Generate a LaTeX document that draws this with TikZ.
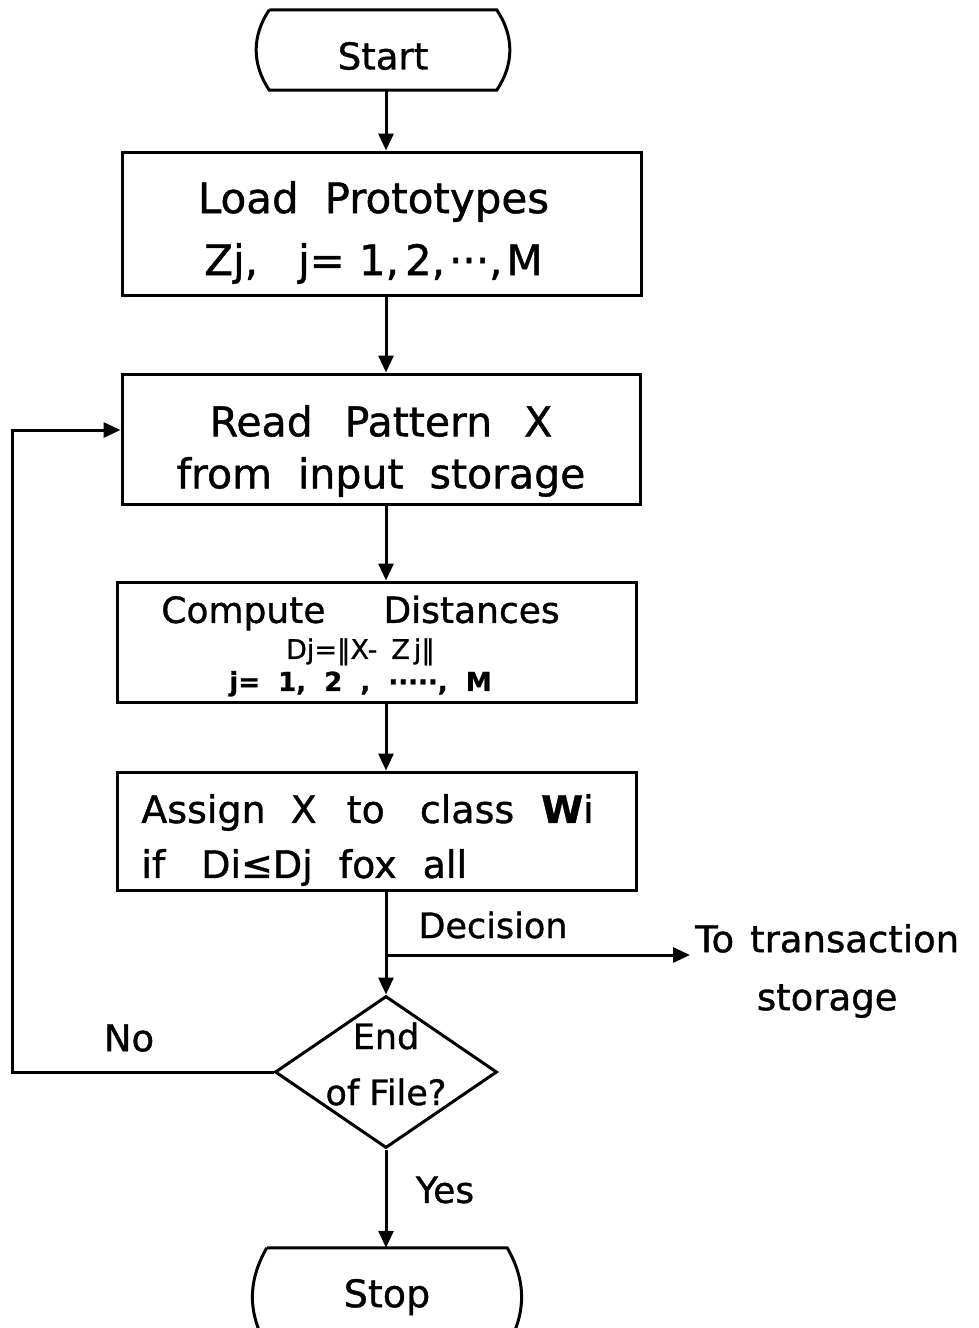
\documentclass[tikz,border=0pt]{standalone}
\usepackage{fontspec}
\setmainfont{DejaVu Sans}[WordSpace=2,FakeBold=1]
\usetikzlibrary{arrows.meta,shapes.geometric,calc}
\begin{document}
\begin{tikzpicture}[x=1pt,y=-1pt,
  every node/.style={inner sep=0pt},
  every label/.style={inner sep=0pt},
  box/.style={draw, rectangle, line width=3pt},
  conn/.style={line width=3pt},
  arr/.style={line width=3pt, -{Triangle[length=17pt,width=15pt]}},
  lbl/.style={font=\fontsize{35}{40}\selectfont}
]
\useasboundingbox (0,0) rectangle (979,1328);
\fill[white] (0,0) rectangle (979,1328);

\coordinate (spine) at (386,0);

% Start terminator
\node[rectangle, minimum width=227pt, minimum height=80pt,
  label={[font=\fontsize{37}{40}\selectfont, yshift=-6pt]center:Start}] (start) at (383,50) {};
\draw[conn] (start.north west) -- (start.north east) to[bend left=34] (start.south east) -- (start.south west) to[bend left=34] (start.north west);

% Process boxes
\node[box, minimum width=519pt, minimum height=143pt,
  label={[align=center, font=\fontsize{42}{62}\selectfont, xshift=-8pt, yshift=-9pt]center:Load\hspace{26pt}Prototypes\\Zj,\hspace{40pt}j=\hspace{14pt}1,\hspace{6pt}2,\hspace{4pt}···,\hspace{4pt}M}] (load) at (381.5,223.5) {};

\node[box, minimum width=518pt, minimum height=130pt,
  label={[align=center, font=\fontsize{41}{52}\selectfont, yshift=-12pt]center:Read\hspace{32pt}Pattern\hspace{32pt}X\\from input storage}] (read) at (381,439) {};

\node[box, minimum width=519pt, minimum height=120pt,
  label={[align=center, font=\fontsize{36}{32}\selectfont, xshift=-16pt, yshift=-4pt]center:Compute\hspace{58pt}Distances\\[4pt]{\fontsize{27}{27}\selectfont Dj=‖X-\hspace{14pt}Z\hspace{4pt}j‖}\\{\fontsize{26}{26}\selectfont\bfseries j= 1, 2 , ·····, M}}] (comp) at (376.5,642) {};

\node[box, minimum width=519pt, minimum height=118pt,
  label={[align=left, font=\fontsize{38}{55}\selectfont, xshift=-9pt, yshift=-9pt]center:Assign\hspace{25pt}X\hspace{30pt}to\hspace{35pt}class\hspace{27pt}{\bfseries W}i\\if\hspace{36pt}Di≤Dj\hspace{26pt}fox\hspace{26pt}all}] (assign) at (376.5,831) {};

% Decision diamond
\node[diamond, draw, line width=3pt, minimum width=222pt, minimum height=152pt,
  label={[align=center, font=\fontsize{35}{56}\selectfont, yshift=8pt]center:End\\of\hspace{10pt}File?}] (eof) at (386,1072) {};

% Stop terminator
\node[rectangle, minimum width=240pt, minimum height=98pt,
  label={[font=\fontsize{38}{40}\selectfont]center:Stop}] (stop) at (387,1297) {};
\draw[conn] (stop.north west) -- (stop.north east) to[bend left=30] (stop.south east) -- (stop.south west) to[bend left=30] (stop.north west);

% Connectors
\draw[arr] (start.south -| spine) -- (load.north -| spine);
\draw[arr] (load.south -| spine) -- (read.north -| spine);
\draw[arr] (read.south -| spine) -- (comp.north -| spine);
\draw[arr] (comp.south -| spine) -- (assign.north -| spine);
\draw[arr] (assign.south -| spine) -- (eof.north);

\coordinate (dec) at (386,955);
\coordinate (tr) at (690,955);
\draw[arr] (dec) -- (tr);
\node[anchor=west, align=center, yshift=-16pt, font=\fontsize{37}{58}\selectfont] (tostore) at ([xshift=5pt]tr) {To\hspace{16pt}transaction\\storage};
\node[lbl] (decision) at (493,925) {Decision};

\coordinate (lx) at (12,430);
\draw[arr] (eof.west) -| (lx) -- ([yshift=9pt]read.west);
\node[font=\fontsize{37}{40}\selectfont] (no) at (129,1038) {No};

\draw[arr] (eof.south) -- (eof.south |- stop.north);
\node[font=\fontsize{36}{40}\selectfont] (yes) at (445,1190) {Yes};
\end{tikzpicture}
\end{document}
